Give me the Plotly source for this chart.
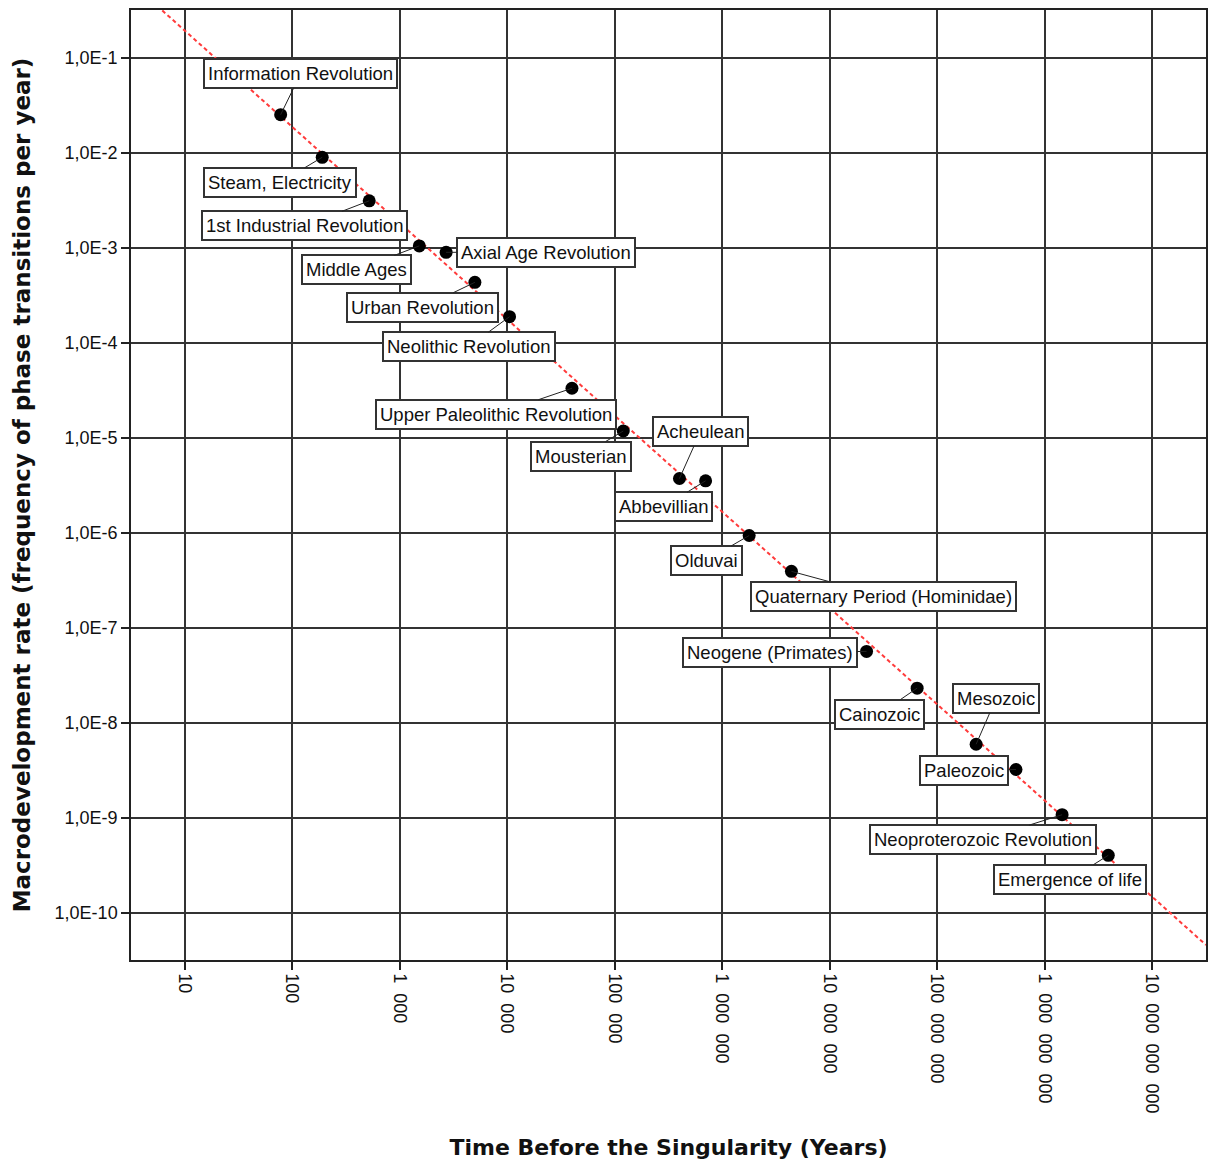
import numpy as np
import plotly.graph_objects as go

# ---- data ----
labels = [
    "Information Revolution", "Steam, Electricity", "1st Industrial Revolution",
    "Middle Ages", "Axial Age Revolution", "Urban Revolution", "Neolithic Revolution",
    "Upper Paleolithic Revolution", "Mousterian", "Acheulean", "Abbevillian",
    "Olduvai", "Quaternary Period (Hominidae)", "Neogene (Primates)", "Cainozoic",
    "Mesozoic", "Paleozoic", "Neoproterozoic Revolution", "Emergence of life",
]
years_before = [78, 190, 520, 1520, 2700, 5000, 10500, 40000, 120000, 400000,
                700000, 1.78e6, 4.4e6, 2.2e7, 6.5e7, 2.3e8, 5.4e8, 1.45e9, 3.9e9]
rates = [0.025, 8.9e-3, 3.1e-3, 1.04e-3, 8.9e-4, 4.3e-4, 1.87e-4, 3.3e-5, 1.17e-5,
         3.7e-6, 3.5e-6, 9.3e-7, 3.9e-7, 5.6e-8, 2.3e-8, 5.9e-9, 3.2e-9, 1.07e-9, 4.0e-10]
# label box offsets from point (pixels)
label_dx = [20, -42, -65, -63, 100, -52, -41, -76, -42, 21, -42, -43, 92, -97, -38, 20, -52, -79, -38]
label_dy = [-41, 25, 25, 24, 0, 25, 30, 26, 25, -47, 26, 25, 25, 1, 26, -46, 1, 25, 24]

x_tickvals = [10 ** k for k in range(1, 11)]
x_ticktext = ["10", "100", "1 000", "10 000", "100 000", "1 000 000", "10 000 000",
              "100 000 000", "1 000 000 000", "10 000 000 000"]
y_tickvals = [10.0 ** (-k) for k in range(1, 11)]
y_ticktext = ["1,0E-%d" % k for k in range(1, 11)]

# wider group separators, as in the original rendering
x_ticktext_disp = [t.replace(" ", "\u00a0\u00a0") for t in x_ticktext]

# ---- trend line (log-log least squares fit) ----
lx = np.log10(years_before)
ly = np.log10(rates)
slope, intercept = np.polyfit(lx, ly, 1)
fit_lx = np.array([0.5, 10.5])
fit_x = 10 ** fit_lx
fit_y = 10 ** (intercept + slope * fit_lx)

fig = go.Figure()
fig.add_trace(go.Scatter(x=fit_x, y=fit_y, mode="lines",
                         line=dict(color="#ff3b3b", width=2, dash="4px,3px"),
                         hoverinfo="skip", showlegend=False))
fig.add_trace(go.Scatter(x=years_before, y=rates, mode="markers",
                         marker=dict(color="black", size=13),
                         text=labels, showlegend=False))

for lab, xv, yv, dx, dy in zip(labels, years_before, rates, label_dx, label_dy):
    fig.add_annotation(x=np.log10(xv), y=np.log10(yv), xref="x", yref="y",
                       text=lab, showarrow=True, arrowhead=0, arrowwidth=1,
                       arrowcolor="#222", ax=dx, ay=dy, axref="pixel", ayref="pixel",
                       standoff=0,
                       font=dict(family="Liberation Sans, Arial", size=18.5, color="#111"),
                       bgcolor="white", bordercolor="#333", borderwidth=2, borderpad=3)

fig.update_layout(
    width=1214, height=1164,
    margin=dict(l=131, r=6, t=10, b=204),
    paper_bgcolor="white", plot_bgcolor="white",
    font=dict(family="Liberation Sans, Arial", color="#222"),
)
fig.update_xaxes(type="log", range=[0.5, 10.5], tickvals=x_tickvals, ticktext=x_ticktext_disp,
                 tickangle=90, tickfont=dict(size=18, color="#111"),
                 ticks="outside", ticklen=8, tickcolor="#222", tickwidth=1.5,
                 showgrid=True, gridcolor="#333", gridwidth=1.5,
                 showline=True, linecolor="#222", linewidth=1.5, mirror=True,
                 zeroline=False,
                 title=dict(text="<b>Time Before the Singularity (Years)</b>",
                            font=dict(family="DejaVu Sans", size=22, color="#111"),
                            standoff=27))
fig.update_yaxes(type="log", range=[-10.5, -0.5], tickvals=y_tickvals, ticktext=y_ticktext,
                 tickfont=dict(size=18, color="#111"),
                 ticks="outside", ticklen=8, tickcolor="#222", tickwidth=1.5,
                 showgrid=True, gridcolor="#333", gridwidth=1.5,
                 showline=True, linecolor="#222", linewidth=1.5, mirror=True,
                 zeroline=False,
                 title=dict(text="<b>Macrodevelopment rate (frequency of phase transitions per year)</b>",
                            font=dict(family="DejaVu Sans", size=23, color="#111"),
                            standoff=18))

fig.write_html("out.html")
